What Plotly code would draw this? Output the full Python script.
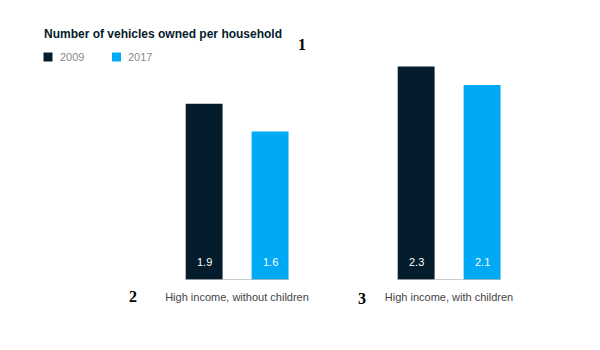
import plotly.graph_objects as go

categories = ["High income, without children", "High income, with children"]
years = ["2009", "2017"]
values_2009 = [1.9, 2.3]
values_2017 = [1.6, 2.1]
title_text = "Number of vehicles owned per household"
markers = ["1", "2", "3"]

W, H = 600, 350
C_DARK = "#051c2c"
C_BLUE = "#00a9f4"
FONT = "Liberation Sans, Arial, sans-serif"

def px(x):
    return x / W

def py(y):
    return 1 - y / H

BAR_W = 0.174
OFFSETS = [-0.242, 0.069]

fig = go.Figure()
annotations = []
for vals, color, off, name in [(values_2009, C_DARK, OFFSETS[0], years[0]),
                               (values_2017, C_BLUE, OFFSETS[1], years[1])]:
    fig.add_trace(go.Bar(
        x=categories, y=vals, name=name,
        marker=dict(color=color, line=dict(width=0)),
        width=BAR_W, offset=off,
        showlegend=False, hoverinfo="skip",
    ))
    for i, v in enumerate(vals):
        annotations.append(dict(text=f"{v:.1f}", xref="x", yref="y",
                                x=i + off + BAR_W / 2, y=0, yanchor="bottom", yshift=10,
                                xanchor="center", showarrow=False,
                                font=dict(color="white", size=11, family=FONT)))

shapes = []
# baseline under each group
for i, _ in enumerate(categories):
    shapes.append(dict(type="line", xref="x", yref="y",
                       x0=i + OFFSETS[0], x1=i + OFFSETS[1] + BAR_W,
                       y0=0, y1=0, line=dict(color="#bdbdbd", width=1.5)))
# manual legend
leg = [(48, C_DARK, years[0]), (116.5, C_BLUE, years[1])]
for cx, col, lab in leg:
    shapes.append(dict(type="rect", xref="paper", yref="paper",
                       x0=px(cx - 4.5), x1=px(cx + 4.5), y0=py(61.5), y1=py(52.5),
                       fillcolor=col, line=dict(width=0)))
    annotations.append(dict(text=lab, xref="paper", yref="paper",
                            x=px(cx + 9.5), y=py(57), xanchor="left", yanchor="middle",
                            showarrow=False, font=dict(size=11, color="#8a8a8a", family=FONT)))

for (mx, my), m in zip([(302, 45), (133, 296), (362, 298)], markers):
    annotations.append(dict(text="<b>" + m + "</b>", xref="paper", yref="paper", x=px(mx), y=py(my),
                            xanchor="center", yanchor="middle", showarrow=False,
                            font=dict(size=16, color="black", family="Liberation Serif, Times New Roman, serif")))

fig.update_layout(
    width=W, height=H,
    margin=dict(l=0, r=0, t=0, b=0),
    paper_bgcolor="white", plot_bgcolor="white",
    title=dict(text="<b>" + title_text + "</b>", x=px(44), xanchor="left",
               y=py(34), yanchor="middle", xref="paper", yref="paper",
               font=dict(size=12, color="#051c2c", family=FONT)),
    xaxis=dict(domain=[px(131), px(555)], range=[-0.5, 1.5], showgrid=False,
               showline=False, zeroline=False, ticks="", ticklabelstandoff=9,
               tickfont=dict(size=11, color="#444", family=FONT)),
    yaxis=dict(domain=[py(280), py(48)], range=[0, 2.5], visible=False),
    shapes=shapes, annotations=annotations,
    barmode="group",
)
fig.write_html("out.html")
